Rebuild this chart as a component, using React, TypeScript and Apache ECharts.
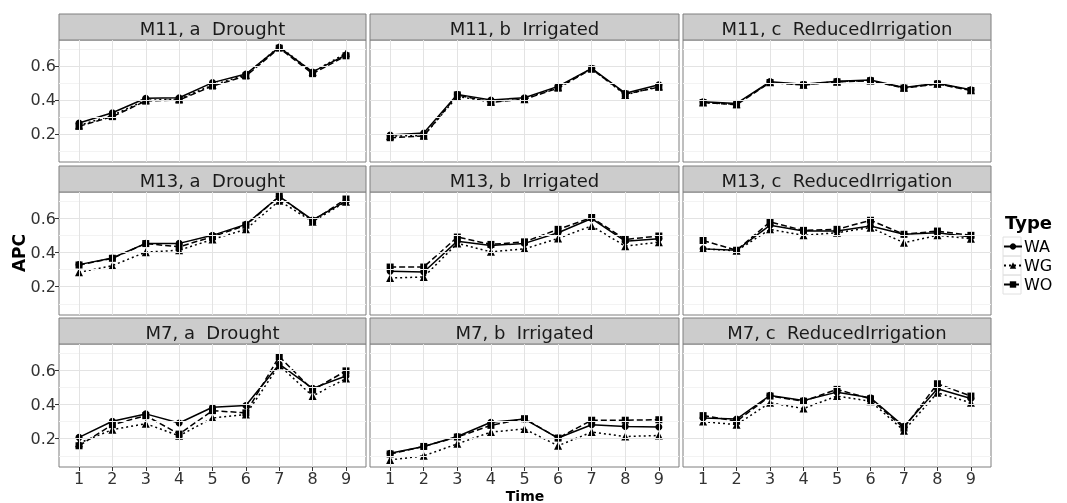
import React, { useEffect, useRef } from "react";
import * as echarts from "echarts";

const times = [1, 2, 3, 4, 5, 6, 7, 8, 9];
const types = ["WA", "WG", "WO"];
const yTicks = [0.2, 0.4, 0.6];
const yMinor = [0.1, 0.3, 0.5, 0.7];
const rowNames = ["M11", "M13", "M7"];
const colNames = ["a  Drought", "b  Irrigated", "c  ReducedIrrigation"];

const m11DroughtWA = [0.265, 0.325, 0.41, 0.413, 0.502, 0.553, 0.71, 0.565, 0.665];
const m11DroughtWG = [0.25, 0.31, 0.398, 0.405, 0.488, 0.547, 0.715, 0.565, 0.675];
const m11DroughtWO = [0.245, 0.302, 0.394, 0.4, 0.482, 0.541, 0.705, 0.555, 0.66];

const m11IrrigatedWA = [0.194, 0.206, 0.433, 0.4, 0.413, 0.48, 0.586, 0.44, 0.49];
const m11IrrigatedWG = [0.188, 0.19, 0.42, 0.39, 0.405, 0.475, 0.585, 0.43, 0.48];
const m11IrrigatedWO = [0.178, 0.188, 0.43, 0.386, 0.404, 0.47, 0.582, 0.435, 0.475];

const m11ReducedWA = [0.39, 0.38, 0.508, 0.492, 0.51, 0.517, 0.474, 0.498, 0.46];
const m11ReducedWG = [0.385, 0.375, 0.505, 0.49, 0.508, 0.515, 0.472, 0.495, 0.458];
const m11ReducedWO = [0.385, 0.372, 0.503, 0.488, 0.507, 0.513, 0.47, 0.494, 0.456];

const m13DroughtWA = [0.329, 0.368, 0.453, 0.453, 0.5, 0.564, 0.727, 0.59, 0.7];
const m13DroughtWG = [0.284, 0.323, 0.402, 0.413, 0.476, 0.535, 0.702, 0.58, 0.696];
const m13DroughtWO = [0.327, 0.366, 0.452, 0.433, 0.492, 0.559, 0.727, 0.585, 0.712];

const m13IrrigatedWA = [0.29, 0.286, 0.466, 0.441, 0.453, 0.515, 0.598, 0.466, 0.48];
const m13IrrigatedWG = [0.251, 0.257, 0.453, 0.404, 0.421, 0.482, 0.555, 0.437, 0.46];
const m13IrrigatedWO = [0.315, 0.315, 0.49, 0.447, 0.462, 0.535, 0.604, 0.476, 0.496];

const m13ReducedWA = [0.421, 0.413, 0.559, 0.525, 0.525, 0.555, 0.506, 0.515, 0.49];
const m13ReducedWG = [0.421, 0.41, 0.535, 0.5, 0.515, 0.545, 0.457, 0.5, 0.48];
const m13ReducedWO = [0.47, 0.413, 0.578, 0.529, 0.535, 0.588, 0.506, 0.525, 0.5];

const m7DroughtWA = [0.208, 0.302, 0.345, 0.292, 0.384, 0.394, 0.635, 0.494, 0.566];
const m7DroughtWG = [0.174, 0.253, 0.288, 0.217, 0.321, 0.341, 0.629, 0.449, 0.551];
const m7DroughtWO = [0.159, 0.282, 0.335, 0.227, 0.364, 0.351, 0.68, 0.484, 0.596];

const m7IrrigatedWA = [0.115, 0.155, 0.213, 0.296, 0.315, 0.204, 0.282, 0.272, 0.268];
const m7IrrigatedWG = [0.076, 0.1, 0.17, 0.239, 0.257, 0.159, 0.239, 0.213, 0.219];
const m7IrrigatedWO = [0.111, 0.155, 0.21, 0.278, 0.317, 0.204, 0.308, 0.308, 0.311];

const m7ReducedWA = [0.321, 0.315, 0.453, 0.423, 0.472, 0.439, 0.272, 0.492, 0.435];
const m7ReducedWG = [0.3, 0.282, 0.41, 0.376, 0.449, 0.419, 0.247, 0.468, 0.41];
const m7ReducedWO = [0.335, 0.302, 0.449, 0.419, 0.488, 0.433, 0.262, 0.521, 0.449];

const panelData = [
  [
    [m11DroughtWA, m11DroughtWG, m11DroughtWO],
    [m11IrrigatedWA, m11IrrigatedWG, m11IrrigatedWO],
    [m11ReducedWA, m11ReducedWG, m11ReducedWO],
  ],
  [
    [m13DroughtWA, m13DroughtWG, m13DroughtWO],
    [m13IrrigatedWA, m13IrrigatedWG, m13IrrigatedWO],
    [m13ReducedWA, m13ReducedWG, m13ReducedWO],
  ],
  [
    [m7DroughtWA, m7DroughtWG, m7DroughtWO],
    [m7IrrigatedWA, m7IrrigatedWG, m7IrrigatedWO],
    [m7ReducedWA, m7ReducedWG, m7ReducedWO],
  ],
];

const FONT = "DejaVu Sans";
const colLeft = [59, 370, 683];
const colWidth = [307, 309, 308];
const rowTop = [40, 192, 344];
const rowHeight = [122, 123, 123];
const STRIP_H = 26;
const LEG_TOP = 237;
const LEG_ROW = 19;

const typeStyle: Record<string, any> = {
  WA: { symbol: "circle", symbolSize: 7, dash: "solid" },
  WG: { symbol: "triangle", symbolSize: 8, dash: [2, 3] },
  WO: { symbol: "rect", symbolSize: 7, dash: [6, 3] },
};

export default function App() {
  const ref = useRef<HTMLDivElement>(null);
  useEffect(() => {
    if (!ref.current) return;
    const chart = echarts.init(ref.current, undefined, { renderer: "svg" });
    const grids: any[] = [];
    const xAxes: any[] = [];
    const yAxes: any[] = [];
    const series: any[] = [];
    const graphics: any[] = [];
    for (let r = 0; r < 3; r++) {
      for (let c = 0; c < 3; c++) {
        const idx = r * 3 + c;
        grids.push({
          left: colLeft[c],
          top: rowTop[r],
          width: colWidth[c],
          height: rowHeight[r],
          show: true,
          backgroundColor: "#ffffff",
          borderColor: "#7f7f7f",
          borderWidth: 1,
          containLabel: false,
        });
        const showX = r === 2;
        const showY = c === 0;
        xAxes.push({
          type: "value",
          gridIndex: idx,
          min: 0.4,
          max: 9.6,
          axisLine: { show: false },
          splitLine: { show: false },
          axisTick: {
            show: showX,
            customValues: times,
            length: 4,
            lineStyle: { color: "#333" },
          },
          axisLabel: {
            show: showX,
            customValues: times,
            fontSize: 16,
            fontFamily: FONT,
            color: "#333",
            margin: 3,
            lineHeight: 16,
          },
        });
        yAxes.push({
          type: "value",
          gridIndex: idx,
          min: 0.035,
          max: 0.753,
          axisLine: { show: false },
          splitLine: { show: false },
          axisTick: {
            show: showY,
            customValues: yTicks,
            length: 4,
            lineStyle: { color: "#333" },
          },
          axisLabel: {
            show: showY,
            customValues: yTicks,
            fontSize: 16,
            fontFamily: FONT,
            color: "#333",
            margin: 3,
            formatter: (v: number) => v.toFixed(1),
          },
        });
        series.push({
          type: "line",
          name: "minorgrid",
          xAxisIndex: idx,
          yAxisIndex: idx,
          data: [],
          z: 1,
          silent: true,
          markLine: {
            silent: true,
            symbol: ["none", "none"],
            label: { show: false },
            lineStyle: { color: "#f3f3f3", width: 1, type: "solid" },
            data: yMinor.map((v) => ({ yAxis: v })),
          },
        });
        series.push({
          type: "line",
          name: "majorgrid",
          xAxisIndex: idx,
          yAxisIndex: idx,
          data: [],
          z: 1,
          silent: true,
          markLine: {
            silent: true,
            symbol: ["none", "none"],
            label: { show: false },
            lineStyle: { color: "#e3e3e3", width: 1, type: "solid" },
            data: [
              ...times.map((t) => ({ xAxis: t })),
              ...yTicks.map((v) => ({ yAxis: v })),
            ],
          },
        });
        types.forEach((t, k) => {
          const st = typeStyle[t];
          series.push({
            type: "line",
            name: t,
            xAxisIndex: idx,
            yAxisIndex: idx,
            data: times.map((x, i) => [x, panelData[r][c][k][i]]),
            symbol: st.symbol,
            symbolSize: st.symbolSize,
            showSymbol: true,
            color: "#000",
            itemStyle: { color: "#000" },
            lineStyle: { color: "#000", width: 1.5, type: st.dash },
            z: 3,
          });
        });
        graphics.push({
          type: "rect",
          shape: {
            x: colLeft[c],
            y: rowTop[r] - STRIP_H,
            width: colWidth[c],
            height: STRIP_H,
          },
          style: { fill: "#cccccc", stroke: "#7f7f7f", lineWidth: 1 },
        });
        graphics.push({
          type: "text",
          x: colLeft[c] + colWidth[c] / 2,
          y: rowTop[r] - STRIP_H / 2 + 1,
          style: {
            text: rowNames[r] + ", " + colNames[c],
            font: `18px "${FONT}"`,
            fill: "#1a1a1a",
            align: "center",
            verticalAlign: "middle",
          },
        });
      }
    }
    // legend key boxes
    types.forEach((_, k) => {
      graphics.push({
        type: "rect",
        shape: { x: 1003, y: LEG_TOP + k * LEG_ROW, width: 18, height: LEG_ROW },
        style: { fill: "none", stroke: "#e0e0e0", lineWidth: 1 },
        z: -1,
      });
    });
    graphics.push({
      type: "text",
      x: 19,
      y: 253,
      rotation: Math.PI / 2,
      style: {
        text: "APC",
        font: `bold 17px "${FONT}"`,
        fill: "#000",
        align: "center",
        verticalAlign: "middle",
      },
    });
    graphics.push({
      type: "text",
      x: 525,
      y: 503,
      style: {
        text: "Time",
        font: `bold 14px "${FONT}"`,
        lineHeight: 14,
        fill: "#000",
        align: "center",
        verticalAlign: "bottom",
      },
    });
    graphics.push({
      type: "text",
      x: 1005,
      y: 222,
      style: {
        text: "Type",
        font: `bold 18px "${FONT}"`,
        fill: "#000",
        align: "left",
        verticalAlign: "middle",
      },
    });
    chart.setOption({
      animation: false,
      grid: grids,
      xAxis: xAxes,
      yAxis: yAxes,
      series,
      graphic: graphics,
      legend: {
        data: types,
        orient: "vertical",
        left: 1003,
        top: LEG_TOP,
        padding: 0,
        itemGap: 0,
        itemWidth: 18,
        itemHeight: 8,
        textStyle: {
          fontSize: 16,
          fontFamily: FONT,
          color: "#000",
          lineHeight: LEG_ROW,
          padding: [0, 0, 0, -3],
        },
      },
    });
    return () => chart.dispose();
  }, []);
  return (
    <div
      ref={ref}
      style={{ position: "fixed", left: 0, top: 0, width: 1067, height: 503 }}
    />
  );
}
